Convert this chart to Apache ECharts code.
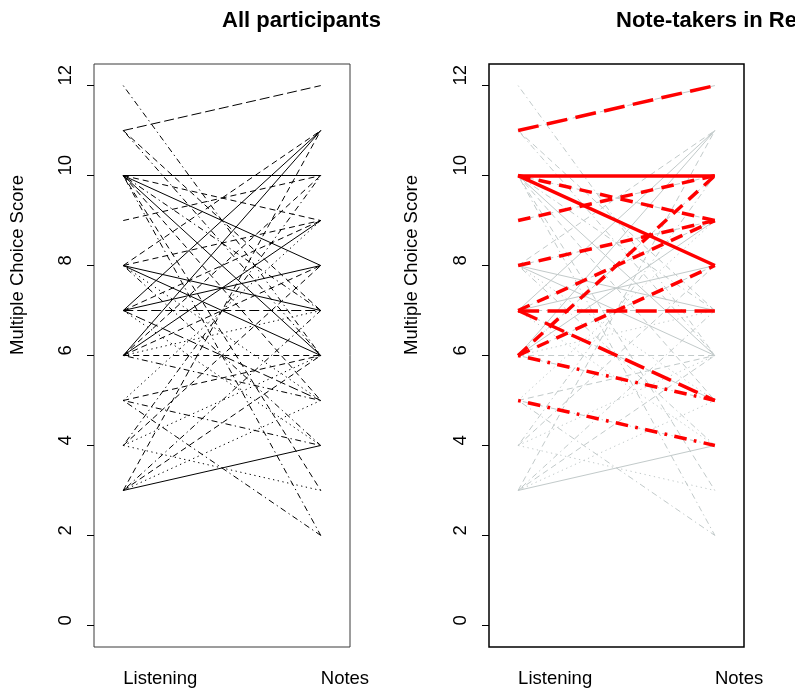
<!DOCTYPE html>
<html>
<head>
<meta charset="utf-8">
<script src="https://cdn.jsdelivr.net/npm/echarts@6/dist/echarts.min.js"></script>
<style>
  html, body { margin: 0; padding: 0; background: #ffffff; }
  #chart { width: 795px; height: 695px; }
</style>
</head>
<body>
<div id="chart"></div>
<script>
// Conditions on the x axis and score ticks on the y axis
const conditions = ['Listening', 'Notes'];
const scoreTicks = [0, 2, 4, 6, 8, 10, 12];

// One entry per participant: score after listening, score after taking notes
const listeningScores = [12, 11, 11, 11, 10, 10, 10, 10, 10, 10, 10, 10, 9, 8, 8, 8, 8, 8, 8,
                         7, 7, 7, 7, 7, 7, 6, 6, 6, 6, 6, 6, 6, 5, 5, 5, 5, 4, 4, 4, 3, 3, 3, 3, 3, 4];
const notesScores     = [6, 12, 7, 6, 10, 9, 8, 7, 6, 5, 3, 2, 10, 11, 9, 7, 6, 5, 4,
                         11, 9, 8, 7, 5, 4, 11, 10, 9, 8, 6, 5, 7, 4, 2, 6, 9, 8, 6, 3, 4, 5, 6, 7, 11, 10];
// Line type of each participant's segment
const lineTypes = ['dotdash', 'longdash', 'dashed', 'dotdash', 'solid', 'dashed', 'solid', 'dotdash', 'solid',
                   'dashed', 'dashed', 'dotdash', 'dashed', 'dashed', 'dashed', 'solid', 'solid', 'dotted', 'dotdash',
                   'solid', 'dashed', 'solid', 'longdash', 'longdash', 'dotted', 'solid', 'dashed', 'solid', 'dashed',
                   'dashed', 'dotdash', 'dotted', 'dotdash', 'dotdash', 'dashed', 'dotted', 'dashed', 'dotted', 'dotted',
                   'solid', 'dotted', 'dashed', 'dotdash', 'dashed', 'dotdash'];
// 1 = note-taker (highlighted in the second panel)
const noteTaker = [0, 1, 0, 0, 1, 1, 1, 0, 0, 0, 0, 0, 1, 0, 1, 0, 0, 0, 0,
                   0, 1, 0, 1, 1, 0, 0, 1, 0, 1, 0, 1, 0, 1, 0, 0, 0, 0, 0, 0, 0, 0, 0, 0, 0, 0];

const panelTitles = ['All participants', 'Note-takers in Red'];
const yTitle = 'Multiple Choice Score';

const FONT = '"Liberation Sans", Arial, Helvetica, sans-serif';

// dash pattern for a given line type, scaled with the stroke width
function dash(type, w) {
  const k = Math.max(1, w * 0.6);
  switch (type) {
    case 'dashed':   return [6 * k, 4 * k];
    case 'dotted':   return [1.3 * k, 3.5 * k];
    case 'dotdash':  return [1.3 * k, 3.5 * k, 6 * k, 3.5 * k];
    case 'longdash': return [10 * k, 4 * k];
    default:         return 'solid';
  }
}

function segments(filter, color, width) {
  const out = [];
  for (let i = 0; i < listeningScores.length; i++) {
    if (!filter(i)) continue;
    out.push({
      coords: [[1, listeningScores[i]], [2, notesScores[i]]],
      lineStyle: { color: color, width: width, opacity: 1, type: dash(lineTypes[i], width), cap: 'butt' }
    });
  }
  return out;
}

const grids = [
  { left: 94, top: 64, width: 256, height: 583 },
  { left: 489, top: 64, width: 255, height: 583 }
];

function xAxis(gi) {
  return {
    type: 'value', gridIndex: gi, min: 0.852, max: 2.148,
    axisLine: { show: false }, splitLine: { show: false },
    axisTick: { show: false },
    axisLabel: {
      customValues: [1, 2],
      formatter: v => conditions[Math.round(v) - 1],
      align: 'left', margin: 22,
      color: '#000', fontSize: 18.5, fontFamily: FONT
    }
  };
}

function yAxis(gi) {
  return {
    type: 'value', gridIndex: gi, min: -0.48, max: 12.48,
    axisLine: { show: false }, splitLine: { show: false },
    axisTick: { show: true, customValues: scoreTicks, length: 7, lineStyle: { color: '#000', width: 1 } },
    axisLabel: {
      customValues: scoreTicks, rotate: 90,
      align: 'left', verticalAlign: 'bottom', margin: 19,
      color: '#000', fontSize: 18.5, fontFamily: FONT
    }
  };
}

const chart = echarts.init(document.getElementById('chart'), null, { renderer: 'canvas' });

chart.setOption({
  animation: false,
  backgroundColor: '#ffffff',
  grid: [
    Object.assign({ show: true, borderColor: '#3a3a3a', borderWidth: 1, backgroundColor: 'transparent' }, grids[0]),
    Object.assign({ show: true, borderColor: '#000000', borderWidth: 1.5, backgroundColor: 'transparent' }, grids[1])
  ],
  xAxis: [xAxis(0), xAxis(1)],
  yAxis: [yAxis(0), yAxis(1)],
  graphic: [
    { type: 'text', x: 222, y: 21, style: { text: panelTitles[0], font: 'bold 22px ' + FONT, fill: '#000', textAlign: 'left', textVerticalAlign: 'middle' } },
    { type: 'text', x: 616, y: 21, style: { text: panelTitles[1], font: 'bold 22px ' + FONT, fill: '#000', textAlign: 'left', textVerticalAlign: 'middle' } },
    { type: 'text', x: 18, y: 355, rotation: Math.PI / 2, style: { text: yTitle, font: '18.5px ' + FONT, fill: '#000', textAlign: 'left', textVerticalAlign: 'middle' } },
    { type: 'text', x: 412, y: 355, rotation: Math.PI / 2, style: { text: yTitle, font: '18.5px ' + FONT, fill: '#000', textAlign: 'left', textVerticalAlign: 'middle' } }
  ],
  series: [
    {
      type: 'lines', coordinateSystem: 'cartesian2d', xAxisIndex: 0, yAxisIndex: 0,
      silent: true, z: 2,
      lineStyle: { opacity: 1 },
      data: segments(() => true, '#000000', 1)
    },
    {
      type: 'lines', coordinateSystem: 'cartesian2d', xAxisIndex: 1, yAxisIndex: 1,
      silent: true, z: 2,
      lineStyle: { opacity: 1 },
      data: segments(() => true, '#c2caca', 1)
    },
    {
      type: 'lines', coordinateSystem: 'cartesian2d', xAxisIndex: 1, yAxisIndex: 1,
      silent: true, z: 3,
      lineStyle: { opacity: 1 },
      data: segments(i => noteTaker[i] === 1, '#ff0000', 3.5)
    }
  ]
});
</script>
</body>
</html>
